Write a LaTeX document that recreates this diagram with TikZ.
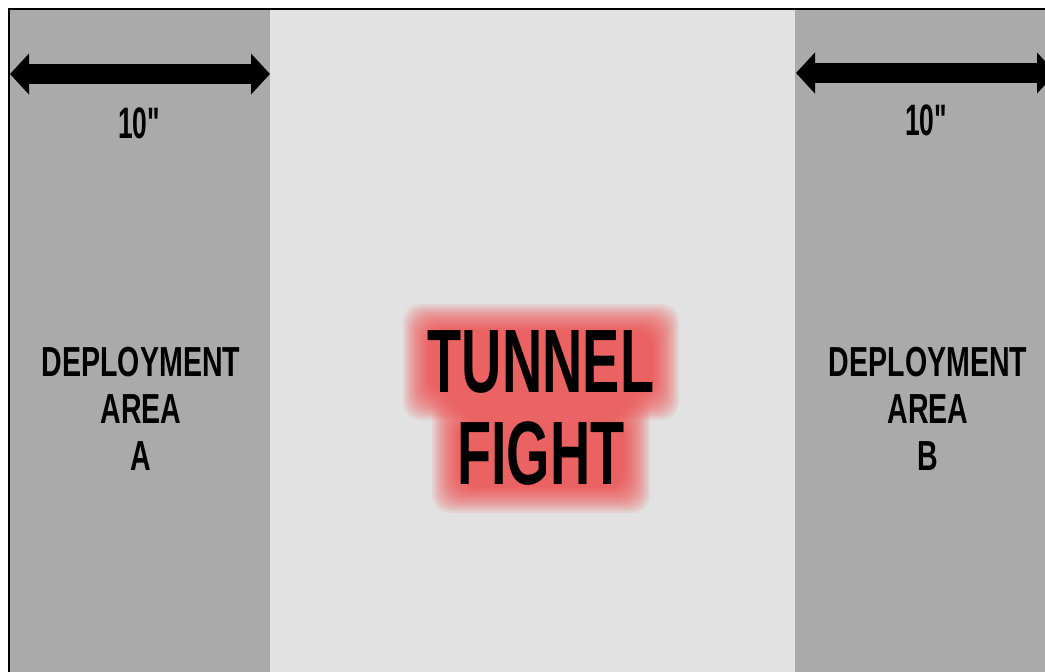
\documentclass[tikz,border=0pt]{standalone}
\usepackage{fontspec}
\usepackage{graphicx}
\setmainfont{Liberation Sans}
\usetikzlibrary{arrows.meta,calc}
\definecolor{sidegray}{RGB}{170,170,170}
\definecolor{midgray}{RGB}{226,226,226}
\definecolor{glowred}{RGB}{245,55,55}
\tikzset{
  dimarrow/.style={line width=20pt,{Triangle[width=40pt,length=19pt]}-{Triangle[width=40pt,length=19pt]}},
  label10/.style={font=\bfseries\fontsize{44}{44}\selectfont, inner sep=0pt},
  deploy/.style={font=\bfseries\fontsize{42}{47}\selectfont, align=center, inner sep=0pt},
  tunnel/.style={font=\bfseries\fontsize{90}{92}\selectfont, inner sep=0pt},
  glow/.style={fill=glowred, fill opacity=0.085, rounded corners=#1}
}
\newcommand{\narrow}[2]{\scalebox{#1}[1]{#2}}
\begin{document}
\begin{tikzpicture}[x=1pt,y=-1pt]
\useasboundingbox (0,0) rectangle (1045,672);
\begin{scope}
\clip (0,0) rectangle (1045,672);
\fill[white] (0,0) rectangle (1045,672);
\fill[sidegray] (10,10) rectangle (270,672);
\fill[midgray] (270,10) rectangle (795,672);
\fill[sidegray] (795,10) rectangle (1045,672);
\draw[line width=2.5pt] (9,690) -- (9,9) -- (1060,9);
% arrows
\coordinate (la) at (10,74);
\coordinate (lb) at (270,74);
\coordinate (ra) at (796,73);
\coordinate (rb) at (1056,73);
\draw[dimarrow] (la) -- (lb);
\draw[dimarrow] (ra) -- (rb);
\end{scope}
\node[label10] (tenA) at (139,123) {\narrow{0.6}{10\textquotedbl}};
\node[label10] (tenB) at (926,120) {\narrow{0.6}{10\textquotedbl}};
\node[deploy] (depA) at (141,409) {\narrow{0.68}{DEPLOYMENT}\\\narrow{0.68}{AREA}\\\narrow{0.68}{A}};
\node[deploy] (depB) at (928,409) {\narrow{0.68}{DEPLOYMENT}\\\narrow{0.68}{AREA}\\\narrow{0.68}{B}};
% glow
\foreach \r in {26,24,...,0}{
  \fill[glow=18pt] ($(541,362)+(-112-\r,-32-\r)$) rectangle ($(541,362)+(112+\r,32+\r)$);
  \fill[glow=18pt] ($(541,454)+(-83-\r,-33-\r)$) rectangle ($(541,454)+(83+\r,33+\r)$);
}
\node[tunnel] (tun) at (541,362) {\narrow{0.62}{TUNNEL}};
\node[tunnel] (fig) at (541,454) {\narrow{0.62}{FIGHT}};
\end{tikzpicture}
\end{document}
